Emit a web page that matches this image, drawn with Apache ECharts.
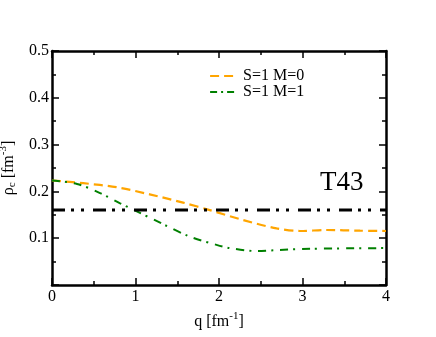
<!DOCTYPE html>
<html>
<head>
<meta charset="utf-8">
<script src="https://cdn.jsdelivr.net/npm/echarts@6/dist/echarts.min.js"></script>
<style>
  html, body { margin: 0; padding: 0; background: #fff; }
  #chart { width: 436px; height: 337px; }
</style>
</head>
<body>
<div id="chart"></div>
<script>
  // values
  var qM0 = [0, 0.375, 0.77, 1.17, 1.57, 1.89, 2.29, 2.69, 2.97, 3.29, 3.69, 4.0];
  var rhoM0 = [0.2233, 0.2175, 0.209, 0.1937, 0.176, 0.160, 0.1387, 0.121, 0.1154, 0.1175, 0.116, 0.1154];
  var qM1 = [0, 0.3, 0.575, 0.81, 1.01, 1.33, 1.65, 1.97, 2.13, 2.45, 2.69, 3.09, 4.0];
  var rhoM1 = [0.2233, 0.216, 0.1965, 0.175, 0.158, 0.130, 0.1034, 0.0858, 0.0789, 0.0725, 0.0746, 0.0774, 0.0789];
  var qLine = [0, 4];
  var rhoLine = [0.16, 0.16];
  var xTicks = ['0', '1', '2', '3', '4'];
  var yTicks = ['0.1', '0.2', '0.3', '0.4', '0.5'];

  function pairs(xs, ys) {
    return xs.map(function (x, i) { return [x, ys[i]]; });
  }

  var font = '"Liberation Serif", "DejaVu Serif", serif';
  var chart = echarts.init(document.getElementById('chart'));

  var tickLine = { color: '#000', width: 1.5 };
  function frameAxis(extra) {
    var a = {
      type: 'value',
      axisLine: { show: true, onZero: false, lineStyle: { color: '#000', width: 2.5 } },
      axisTick: { show: true, inside: true, length: 7, lineStyle: tickLine },
      minorTick: { show: true, splitNumber: 2, length: 4, lineStyle: tickLine },
      splitLine: { show: false },
      axisLabel: { show: false }
    };
    for (var k in extra) a[k] = extra[k];
    return a;
  }

  var dashM0 = [9, 5];
  var dashM1 = [8, 5, 2, 7];

  var option = {
    animation: false,
    grid: { left: 52, right: 50, top: 51, bottom: 52, outerBoundsMode: 'none', containLabel: false },
    legend: {
      orient: 'vertical',
      left: 204,
      top: 63,
      itemGap: 0,
      itemWidth: 28,
      itemHeight: 9,
      itemStyle: { opacity: 0 },
      textStyle: { fontFamily: font, fontSize: 16, color: '#000', lineHeight: 10 },
      data: [
        { name: 'S=1 M=0', lineStyle: { color: '#ffa500', width: 2.2, type: dashM0 } },
        { name: 'S=1 M=1', lineStyle: { color: '#008000', width: 2, type: [7, 4, 2, 4] } }
      ]
    },
    xAxis: [frameAxis({
      min: 0, max: 4, interval: 1, position: 'bottom',
      axisLabel: {
        show: true, fontFamily: font, fontSize: 16, color: '#000', margin: 4,
        formatter: function (v) { return xTicks[Math.round(v)]; }
      },
      name: '{a|q [fm}{sup|-1}{a|]}',
      nameLocation: 'middle',
      nameGap: 26,
      nameTextStyle: {
        rich: {
          a: { fontFamily: font, fontSize: 16, color: '#000' },
          sup: { fontFamily: font, fontSize: 11, color: '#000', padding: [0, 0, 10, 0] }
        }
      }
    }), frameAxis({ min: 0, max: 4, interval: 1, position: 'top' })],
    yAxis: [frameAxis({
      min: 0, max: 0.5, interval: 0.1, position: 'left',
      axisLabel: {
        show: true, fontFamily: font, fontSize: 16, color: '#000', margin: 3,
        formatter: function (v) {
          var i = Math.round(v * 10);
          return i === 0 ? '' : yTicks[i - 1];
        }
      },
      name: '{a|ρ}{sub|c}{a| [fm}{sup|-3}{a|]}',
      nameLocation: 'middle',
      nameRotate: 90,
      nameGap: 27,
      nameTextStyle: {
        rich: {
          a: { fontFamily: font, fontSize: 16, color: '#000' },
          sub: { fontFamily: font, fontSize: 11, color: '#000', padding: [8, 0, 0, 0] },
          sup: { fontFamily: font, fontSize: 11, color: '#000', padding: [0, 0, 10, 0] }
        }
      }
    }), frameAxis({ min: 0, max: 0.5, interval: 0.1, position: 'right' })],
    graphic: [{
      type: 'text',
      left: 320,
      top: 169,
      style: { text: 'T43', fontFamily: font, fontSize: 27, fill: '#000' }
    }],
    series: [{
      name: 'S=1 M=0',
      type: 'line',
      data: pairs(qM0, rhoM0),
      smooth: 0.3,
      symbol: 'none',
      lineStyle: { color: '#ffa500', width: 2.2, type: dashM0 },
      itemStyle: { color: '#ffa500' }
    }, {
      name: 'S=1 M=1',
      type: 'line',
      data: pairs(qM1, rhoM1),
      smooth: 0.3,
      symbol: 'none',
      lineStyle: { color: '#008000', width: 2, type: dashM1 },
      itemStyle: { color: '#008000' }
    }, {
      name: 'nuclear',
      type: 'line',
      data: pairs(qLine, rhoLine),
      symbol: 'none',
      lineStyle: { color: '#000', width: 3, type: [13, 6, 3, 7, 3, 9] },
      itemStyle: { color: '#000' }
    }]
  };

  chart.setOption(option);
</script>
</body>
</html>
